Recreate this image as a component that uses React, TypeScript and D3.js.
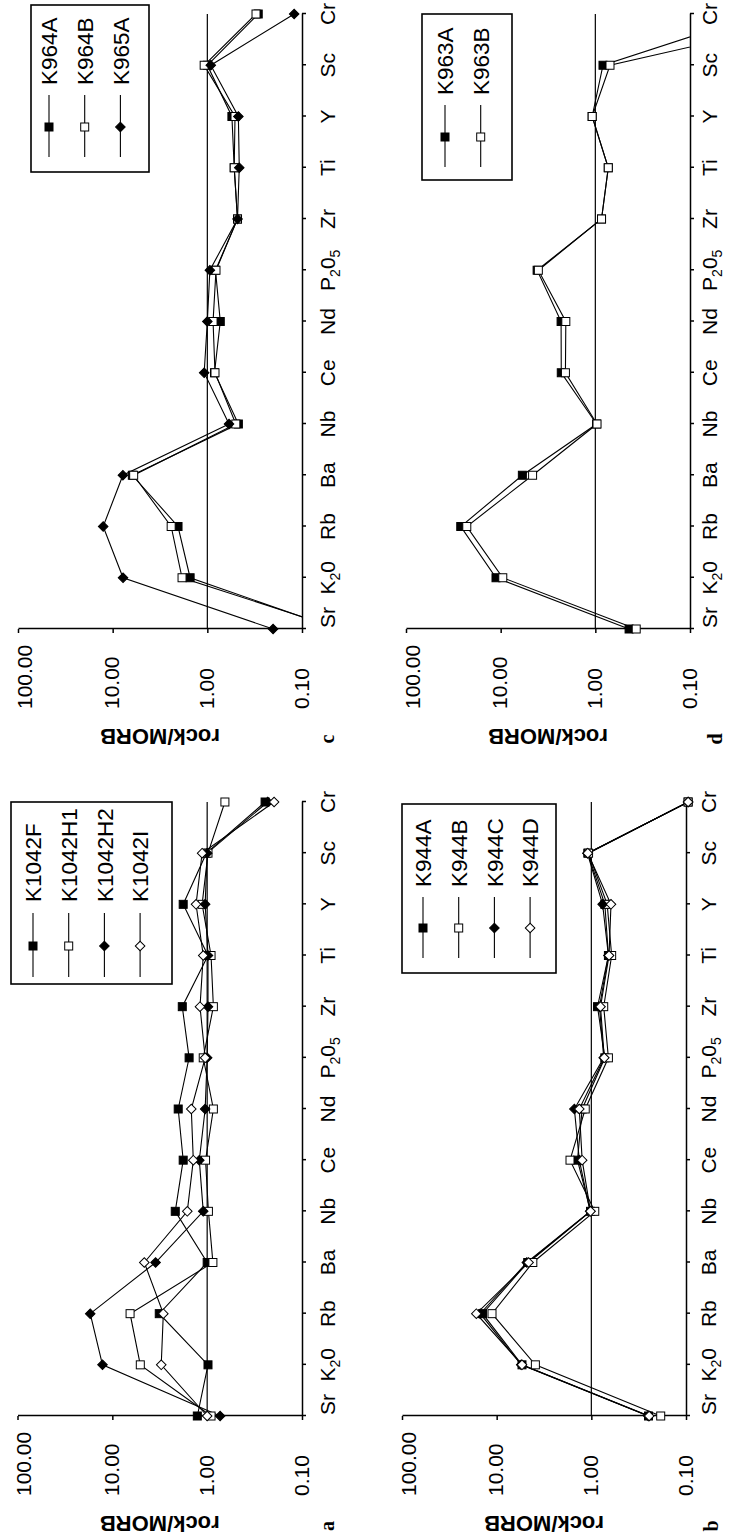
import React, { useEffect, useRef } from 'react'
import * as d3 from 'd3'

// element order along the category axis ("_" marks a subscript digit)
const categories = ['Sr', 'K_20', 'Rb', 'Ba', 'Nb', 'Ce', 'Nd', 'P_20_5', 'Zr', 'Ti', 'Y', 'Sc', 'Cr']
const yTicks = [100, 10, 1, 0.1]

// panel a
const k1042F = [1.27, 0.98, 3.2, 1.0, 2.17, 1.79, 2.02, 1.55, 1.83, 0.98, 1.79, 1.02, 0.245]
const k1042H1 = [0.91, 5.07, 6.5, 0.87, 0.97, 1.04, 0.86, 1.1, 0.86, 0.91, 1.13, 0.98, 0.65]
const k1042H2 = [0.73, 12.7, 17.1, 3.5, 1.1, 1.21, 1.05, 1.0, 0.98, 0.98, 1.05, 1.0, 0.23]
const k1042I = [1.0, 3.05, 2.9, 4.6, 1.62, 1.4, 1.47, 1.05, 1.19, 1.1, 1.31, 1.13, 0.197]

// panel b
const k944A = [0.249, 5.4, 14.1, 4.7, 1.02, 1.4, 1.25, 0.72, 0.86, 0.66, 0.72, 1.09, 0.095]
const k944B = [0.185, 3.9, 11.2, 4.15, 0.92, 1.68, 1.16, 0.66, 0.74, 0.61, 0.68, 1.07, 0.095]
const k944C = [0.25, 5.5, 14.9, 4.8, 1.03, 1.34, 1.51, 0.74, 0.82, 0.66, 0.76, 1.1, 0.095]
const k944D = [0.245, 5.4, 16.4, 4.6, 1.02, 1.25, 1.34, 0.73, 0.8, 0.65, 0.62, 1.09, 0.095]

// panel c
const k964A = [0.043, 1.52, 2.04, 6.2, 0.47, 0.84, 0.73, 0.82, 0.48, 0.52, 0.55, 1.0, 0.29]
const k964B = [0.04, 1.85, 2.41, 6.0, 0.5, 0.83, 0.87, 0.81, 0.48, 0.52, 0.51, 1.08, 0.306]
const k965A = [0.202, 7.77, 12.6, 7.8, 0.59, 1.08, 1.0, 0.94, 0.48, 0.46, 0.47, 0.92, 0.121]

// panel d
const k963A = [0.44, 11.2, 26.4, 5.9, 0.97, 2.29, 2.3, 4.12, 0.86, 0.73, 1.08, 0.83, 0.018]
const k963B = [0.37, 9.5, 22.8, 4.6, 0.96, 2.07, 2.05, 4.0, 0.86, 0.73, 1.08, 0.7, 0.003]

const W = 729
const H = 1536
const SANS = "'Liberation Sans', Arial, sans-serif"

type Series = { name: string; values: number[]; shape: 'square' | 'diamond'; filled: boolean }

const panels = [
  {
    letter: 'a', left: 120, right: 734, top: 17.5, bottom: 302, labelGap: 33,
    legend: { x: 552, y: 11, w: 182, h: 161, first: 22, l0: 7, l1: 71, mark: 38, text: 82 },
    series: [
      { name: 'K1042F', values: k1042F, shape: 'square', filled: true },
      { name: 'K1042H1', values: k1042H1, shape: 'square', filled: false },
      { name: 'K1042H2', values: k1042H2, shape: 'diamond', filled: true },
      { name: 'K1042I', values: k1042I, shape: 'diamond', filled: false },
    ] as Series[],
  },
  {
    letter: 'c', left: 907, right: 1522, top: 18, bottom: 302, labelGap: 33,
    legend: { x: 1364, y: 31, w: 167, h: 118, first: 18, l0: 15, l1: 77, mark: 45, text: 87 },
    series: [
      { name: 'K964A', values: k964A, shape: 'square', filled: true },
      { name: 'K964B', values: k964B, shape: 'square', filled: false },
      { name: 'K965A', values: k965A, shape: 'diamond', filled: true },
    ] as Series[],
  },
  {
    letter: 'b', left: 120, right: 734, top: 402, bottom: 686, labelGap: 30,
    legend: { x: 563, y: 402, w: 169, h: 154, first: 21, l0: 15, l1: 76, mark: 45, text: 86 },
    series: [
      { name: 'K944A', values: k944A, shape: 'square', filled: true },
      { name: 'K944B', values: k944B, shape: 'square', filled: false },
      { name: 'K944C', values: k944C, shape: 'diamond', filled: true },
      { name: 'K944D', values: k944D, shape: 'diamond', filled: false },
    ] as Series[],
  },
  {
    letter: 'd', left: 907, right: 1522, top: 406, bottom: 690, labelGap: 27,
    legend: { x: 1356, y: 422, w: 166, h: 90, first: 23, l0: 13, l1: 75, mark: 43, text: 85 },
    series: [
      { name: 'K963A', values: k963A, shape: 'square', filled: true },
      { name: 'K963B', values: k963B, shape: 'square', filled: false },
    ] as Series[],
  },
]

function drawMarker(g: any, s: Series, cx: number, cy: number) {
  const fill = s.filled ? '#000' : '#fff'
  if (s.shape === 'square') {
    g.append('rect')
      .attr('x', cx - 4).attr('y', cy - 4)
      .attr('width', 8).attr('height', 8)
      .attr('fill', fill).attr('stroke', '#000').attr('stroke-width', 1)
  } else {
    g.append('path')
      .attr('d', d3.symbol().type(d3.symbolSquare).size(46)())
      .attr('transform', `translate(${cx},${cy}) rotate(45)`)
      .attr('fill', fill).attr('stroke', '#000').attr('stroke-width', 1)
  }
}

function App() {
  const ref = useRef<SVGSVGElement>(null)

  useEffect(() => {
    if (!ref.current) return
    const svg = d3.select(ref.current)
    svg.selectAll('*').remove()

    // the figure is laid out in landscape and turned a quarter turn anticlockwise
    const root = svg.append('g').attr('transform', `translate(0,${H}) rotate(-90)`)

    panels.forEach((p, pi) => {
      const x = d3.scalePoint<string>().domain(categories).range([p.left, p.right])
      const y = d3.scaleLog().domain([0.1, 100]).range([p.bottom, p.top])
      const g = root.append('g')

      const clipId = 'clip-' + pi
      g.append('clipPath').attr('id', clipId)
        .append('rect')
          .attr('x', p.left - 6).attr('y', p.top - 6)
          .attr('width', p.right - p.left + 12).attr('height', p.bottom - p.top + 6)

      // reference line at rock/MORB = 1
      g.append('line')
        .attr('x1', p.left).attr('x2', p.right)
        .attr('y1', y(1)).attr('y2', y(1))
        .attr('stroke', '#000').attr('stroke-width', 1.2)

      // value axis
      const yAxis = d3.axisLeft(y).tickValues(yTicks).tickSize(4).tickSizeOuter(0)
        .tickFormat(d3.format('.2f') as any)
      const gy = g.append('g').attr('transform', `translate(${p.left},0)`).call(yAxis)
      gy.attr('font-family', SANS).attr('font-size', 21)
      gy.select('.domain').attr('stroke-width', 1.5)
      gy.selectAll('.tick line').attr('stroke-width', 1.5)
      gy.selectAll('.tick text')
        .attr('fill', '#000')
        .attr('text-anchor', 'start')
        .attr('x', -80)
        .attr('dy', (d: any) => (d === 100 ? '0.62em' : '0.3em'))

      // category axis
      const xAxis = d3.axisBottom(x).tickSize(4).tickSizeOuter(0).tickFormat(() => '')
      const gx = g.append('g').attr('transform', `translate(0,${p.bottom})`).call(xAxis)
      gx.select('.domain').attr('stroke-width', 1.5)
      gx.selectAll('.tick line').attr('stroke-width', 1.5)

      categories.forEach((c, i) => {
        const t = g.append('text')
          .attr('x', i === 0 ? (x(c) as number) + 1 : (x(c) as number))
          .attr('y', p.bottom + p.labelGap)
          .attr('text-anchor', i === 0 ? 'start' : 'middle')
          .attr('font-family', SANS).attr('font-size', 21)
        const parts: { s: string; sub: boolean }[] = []
        for (let k = 0; k < c.length; k++) {
          if (c[k] === '_') { parts.push({ s: c[k + 1], sub: true }); k++ }
          else if (parts.length && !parts[parts.length - 1].sub) parts[parts.length - 1].s += c[k]
          else parts.push({ s: c[k], sub: false })
        }
        let shift = 0
        parts.forEach(pt => {
          t.append('tspan')
            .attr('dy', pt.sub ? 5 - shift : -shift)
            .attr('font-size', pt.sub ? 14 : 21)
            .text(pt.s)
          shift = pt.sub ? 5 : 0
        })
      })

      // axis title and panel letter
      g.append('text')
        .attr('transform', `translate(${p.left - 100},${(p.top + p.bottom) / 2}) rotate(-90)`)
        .attr('text-anchor', 'middle')
        .attr('font-family', SANS).attr('font-weight', 'bold').attr('font-size', 22)
        .text('rock/MORB')

      g.append('text')
        .attr('x', p.left - 110).attr('y', p.bottom + 32)
        .attr('text-anchor', 'middle')
        .attr('font-family', "'Liberation Serif', 'Times New Roman', serif")
        .attr('font-weight', 'bold').attr('font-size', 20)
        .text(p.letter)

      // series
      const line = d3.line<number>()
        .x((_, i) => x(categories[i]) as number)
        .y(v => y(v))
      const lines = g.append('g').attr('clip-path', `url(#${clipId})`)
      p.series.forEach(s => {
        lines.append('path')
          .attr('d', line(s.values))
          .attr('fill', 'none').attr('stroke', '#000').attr('stroke-width', 1.1)
      })
      p.series.forEach(s => {
        s.values.forEach((v, i) => {
          if (v < 0.09) return
          drawMarker(g, s, x(categories[i]) as number, y(v))
        })
      })

      // legend
      const L = p.legend
      const lg = g.append('g')
      lg.append('rect')
        .attr('x', L.x).attr('y', L.y).attr('width', L.w).attr('height', L.h)
        .attr('fill', '#fff').attr('stroke', '#000').attr('stroke-width', 1.6)
      p.series.forEach((s, i) => {
        const ly = L.y + L.first + i * 35.7
        lg.append('line')
          .attr('x1', L.x + L.l0).attr('x2', L.x + L.l1)
          .attr('y1', ly).attr('y2', ly)
          .attr('stroke', '#000').attr('stroke-width', 1.1)
        drawMarker(lg, s, L.x + L.mark, ly)
        lg.append('text')
          .attr('x', L.x + L.text).attr('y', ly).attr('dy', '0.36em')
          .attr('font-family', SANS).attr('font-size', 22.5)
          .text(s.name)
      })
    })
  }, [])

  return (
    <svg
      ref={ref}
      width={W}
      height={H}
      style={{ position: 'absolute', left: 0, top: 0, background: '#fff' }}
    />
  )
}

export default App
